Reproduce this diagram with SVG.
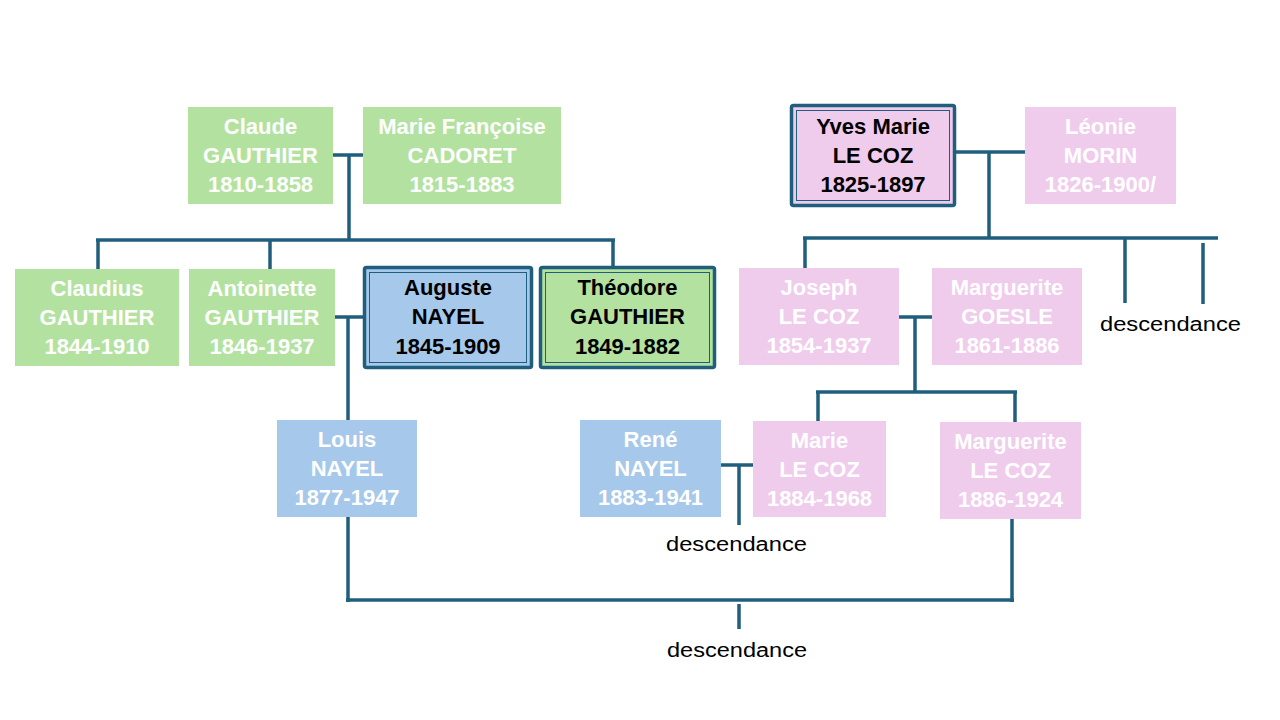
<svg xmlns="http://www.w3.org/2000/svg" width="1280" height="720" viewBox="0 0 1280 720">
<style>
.g{fill:#B3E2A0}
.b{fill:#A6C8EA}
.p{fill:#F0CCEC}
.hl{stroke:#1F5E7C;stroke-width:3.5}
.in{fill:none;stroke:#1F5E7C;stroke-width:1}
text{font-family:"Liberation Sans",Arial,sans-serif;font-weight:bold;font-size:22px;text-anchor:middle}
.w{fill:#FFFFFF}
.k{fill:#000000}
.d{font-weight:normal;font-size:20px;fill:#000;text-anchor:start}
#connectors line{stroke:#1F5E7C;stroke-width:3.5}
</style>
<rect width="1280" height="720" fill="#FFFFFF"/>
<g id="connectors">
<line x1="333" y1="155" x2="363" y2="155"/>
<line x1="349" y1="155" x2="349" y2="240"/>
<line x1="96" y1="240" x2="615" y2="240"/>
<line x1="98" y1="240" x2="98" y2="269"/>
<line x1="270" y1="240" x2="270" y2="269"/>
<line x1="613" y1="240" x2="613" y2="266"/>
<line x1="335" y1="317" x2="363" y2="317"/>
<line x1="348" y1="317" x2="348" y2="420"/>
<line x1="348" y1="517" x2="348" y2="602"/>
<line x1="346" y1="600" x2="1014" y2="600"/>
<line x1="1012" y1="518" x2="1012" y2="602"/>
<line x1="739" y1="604" x2="739" y2="629"/>
<line x1="956" y1="152" x2="1025" y2="152"/>
<line x1="989" y1="152" x2="989" y2="238"/>
<line x1="803" y1="238" x2="1218" y2="238"/>
<line x1="805" y1="238" x2="805" y2="268"/>
<line x1="1125" y1="238" x2="1125" y2="303"/>
<line x1="1203" y1="243" x2="1203" y2="304"/>
<line x1="899" y1="317" x2="932" y2="317"/>
<line x1="915" y1="317" x2="915" y2="392"/>
<line x1="816" y1="392" x2="1017" y2="392"/>
<line x1="818" y1="392" x2="818" y2="421"/>
<line x1="1015" y1="392" x2="1015" y2="422"/>
<line x1="721" y1="465" x2="753" y2="465"/>
<line x1="739" y1="465" x2="739" y2="525"/>
</g>
<g id="claude">
<rect class="g" x="188" y="107" width="145" height="97"/>
<text class="w" x="260.5" y="134">Claude</text>
<text class="w" x="260.5" y="163">GAUTHIER</text>
<text class="w" x="260.5" y="192">1810-1858</text>
</g>
<g id="marie-francoise">
<rect class="g" x="363" y="107" width="198" height="97"/>
<text class="w" x="462" y="134">Marie Françoise</text>
<text class="w" x="462" y="163">CADORET</text>
<text class="w" x="462" y="192">1815-1883</text>
</g>
<g id="claudius">
<rect class="g" x="15" y="269" width="164" height="97"/>
<text class="w" x="97" y="296">Claudius</text>
<text class="w" x="97" y="325">GAUTHIER</text>
<text class="w" x="97" y="354">1844-1910</text>
</g>
<g id="antoinette">
<rect class="g" x="189" y="269" width="146" height="97"/>
<text class="w" x="262" y="296">Antoinette</text>
<text class="w" x="262" y="325">GAUTHIER</text>
<text class="w" x="262" y="354">1846-1937</text>
</g>
<g id="auguste">
<rect class="b hl" x="364.5" y="267.5" width="167" height="100" rx="2"/>
<rect class="in" x="369.5" y="272.5" width="157" height="90"/>
<text class="k" x="448" y="295">Auguste</text>
<text class="k" x="448" y="324">NAYEL</text>
<text class="k" x="448" y="353.5">1845-1909</text>
</g>
<g id="theodore">
<rect class="g hl" x="540.5" y="267.5" width="174" height="100" rx="2"/>
<rect class="in" x="545.5" y="272.5" width="164" height="90"/>
<text class="k" x="627.5" y="295">Théodore</text>
<text class="k" x="627.5" y="324">GAUTHIER</text>
<text class="k" x="627.5" y="353.5">1849-1882</text>
</g>
<g id="louis">
<rect class="b" x="277" y="420" width="140" height="97"/>
<text class="w" x="347" y="447">Louis</text>
<text class="w" x="347" y="476">NAYEL</text>
<text class="w" x="347" y="505">1877-1947</text>
</g>
<g id="yves-marie">
<rect class="p hl" x="791.5" y="105.5" width="163" height="100" rx="2"/>
<rect class="in" x="796.5" y="110.5" width="153" height="90"/>
<text class="k" x="873" y="134">Yves Marie</text>
<text class="k" x="873" y="163">LE COZ</text>
<text class="k" x="873" y="192">1825-1897</text>
</g>
<g id="leonie">
<rect class="p" x="1025" y="107" width="151" height="97"/>
<text class="w" x="1100.5" y="134">Léonie</text>
<text class="w" x="1100.5" y="163">MORIN</text>
<text class="w" x="1100.5" y="192">1826-1900/</text>
</g>
<g id="joseph">
<rect class="p" x="739" y="268" width="160" height="97"/>
<text class="w" x="819" y="295">Joseph</text>
<text class="w" x="819" y="324">LE COZ</text>
<text class="w" x="819" y="353">1854-1937</text>
</g>
<g id="marguerite-goesle">
<rect class="p" x="932" y="268" width="150" height="97"/>
<text class="w" x="1007" y="295">Marguerite</text>
<text class="w" x="1007" y="324">GOESLE</text>
<text class="w" x="1007" y="353">1861-1886</text>
</g>
<g id="rene">
<rect class="b" x="580" y="420" width="141" height="97"/>
<text class="w" x="650.5" y="447">René</text>
<text class="w" x="650.5" y="476">NAYEL</text>
<text class="w" x="650.5" y="505">1883-1941</text>
</g>
<g id="marie-lecoz">
<rect class="p" x="753" y="421" width="133" height="96"/>
<text class="w" x="819.5" y="448">Marie</text>
<text class="w" x="819.5" y="477">LE COZ</text>
<text class="w" x="819.5" y="506">1884-1968</text>
</g>
<g id="marguerite-lecoz">
<rect class="p" x="940" y="422" width="141" height="97"/>
<text class="w" x="1010.5" y="449">Marguerite</text>
<text class="w" x="1010.5" y="478">LE COZ</text>
<text class="w" x="1010.5" y="507">1886-1924</text>
</g>
<g id="labels">
<text class="d" x="1100" y="331" textLength="141" lengthAdjust="spacingAndGlyphs">descendance</text>
<text class="d" x="666" y="551" textLength="141" lengthAdjust="spacingAndGlyphs">descendance</text>
<text class="d" x="667" y="657" textLength="140" lengthAdjust="spacingAndGlyphs">descendance</text>
</g>
</svg>
